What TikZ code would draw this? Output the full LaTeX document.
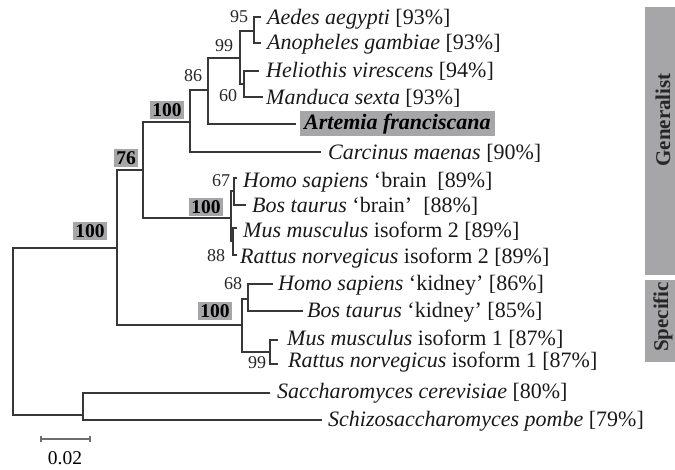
\documentclass[tikz,border=0pt]{standalone}
\usepackage{fontspec}
\setmainfont{Liberation Serif}
\definecolor{boxgray}{RGB}{166,166,168}
\definecolor{linegray}{RGB}{55,55,55}
\definecolor{scalegray}{RGB}{110,110,110}
\begin{document}
\begin{tikzpicture}[x=1pt,y=-1pt,
  branch/.style={draw=linegray,line width=1.8pt},
  leaf/.style={anchor=base west,inner sep=0pt,font=\fontsize{22}{26}\selectfont,text=black!90},
  boot/.style={inner sep=0pt,font=\fontsize{18}{20}\selectfont,text=black!85},
  bootbox/.style={fill=boxgray,inner xsep=2.5pt,inner ysep=2.5pt,text height=13.5pt,text depth=0pt,font=\fontsize{19.5}{22}\selectfont\bfseries,text=black},
  sidebar/.style={fill=boxgray,draw=none},
  sidelabel/.style={rotate=90,inner sep=0pt,font=\fontsize{21}{24}\selectfont\bfseries,text=black!85}]
\useasboundingbox (0,0) rectangle (675,469);

% internal nodes
\coordinate (R) at (13,331);
\coordinate (A) at (117,248);
\coordinate (Y) at (83,415);
\coordinate (B) at (143,170);
\coordinate (C) at (190,122);
\coordinate (E) at (208,90);
\coordinate (F) at (240,58);
\coordinate (G) at (254,31);
\coordinate (H) at (244,84);
\coordinate (D) at (231,218);
\coordinate (D1) at (234,191);
\coordinate (D2) at (233,241);
\coordinate (K) at (242,325);
\coordinate (K1) at (248,299);
\coordinate (K2) at (270,352);

% leaf ends
\coordinate (aedesL) at (261,17);
\coordinate (anophL) at (261,43);
\coordinate (helioL) at (259,71);
\coordinate (mandL) at (263,97);
\coordinate (artL) at (296,124);
\coordinate (carcL) at (321,152);
\coordinate (homoBL) at (237,178);
\coordinate (bosBL) at (246,205);
\coordinate (mus2L) at (237,228);
\coordinate (rat2L) at (237,255);
\coordinate (homoKL) at (273,284);
\coordinate (bosKL) at (303,311);
\coordinate (mus1L) at (278,340);
\coordinate (rat1L) at (278,364);
\coordinate (sacchL) at (270,393);
\coordinate (schizoL) at (322,420);

% branches
\draw[branch] (R) |- (A);
\draw[branch] (R) |- (Y);
\draw[branch] (A) |- (B);
\draw[branch] (A) |- (K);
\draw[branch] (B) |- (C);
\draw[branch] (B) |- (D);
\draw[branch] (C) |- (E);
\draw[branch] (C) |- (carcL);
\draw[branch] (E) |- (F);
\draw[branch] (E) |- (artL);
\draw[branch] (F) |- (G);
\draw[branch] (F) |- (H);
\draw[branch] (G) |- (aedesL);
\draw[branch] (G) |- (anophL);
\draw[branch] (H) |- (helioL);
\draw[branch] (H) |- (mandL);
\draw[branch] (D) |- (D1);
\draw[branch] (D) |- (D2);
\draw[branch] (D1) |- (homoBL);
\draw[branch] (D1) |- (bosBL);
\draw[branch] (D2) |- (mus2L);
\draw[branch] (D2) |- (rat2L);
\draw[branch] (K) |- (K1);
\draw[branch] (K) |- (K2);
\draw[branch] (K1) |- (homoKL);
\draw[branch] (K1) |- (bosKL);
\draw[branch] (K2) |- (mus1L);
\draw[branch] (K2) |- (rat1L);
\draw[branch] (Y) |- (sacchL);
\draw[branch] (Y) |- (schizoL);

% leaf labels
\node[leaf] (aedes) at (267,24.5) {\textit{Aedes aegypti} [93\%]};
\node[leaf] (anoph) at (267,49.5) {\textit{Anopheles gambiae} [93\%]};
\node[leaf] (helio) at (266,77.5) {\textit{Heliothis virescens} [94\%]};
\node[leaf] (mand) at (266,104.5) {\textit{Manduca sexta} [93\%]};
\node[fill=boxgray,anchor=west,inner xsep=4pt,inner ysep=2pt,text height=16pt,text depth=5pt,font=\fontsize{22}{26}\selectfont\bfseries\itshape,text=black] (art) at (300,123.5) {Artemia franciscana};
\node[leaf] (carc) at (328,159.5) {\textit{Carcinus maenas} [90\%]};
\node[leaf] (homoB) at (243,187.5) {\textit{Homo sapiens} ‘brain\ \ [89\%]};
\node[leaf] (bosB) at (252,212.5) {\textit{Bos taurus} ‘brain’\ \ [88\%]};
\node[leaf] (mus2) at (243,237.5) {\textit{Mus musculus} isoform 2 [89\%]};
\node[leaf] (rat2) at (240,263.5) {\textit{Rattus norvegicus} isoform 2 [89\%]};
\node[leaf] (homoK) at (278,290.5) {\textit{Homo sapiens} ‘kidney’ [86\%]};
\node[leaf] (bosK) at (307,317.5) {\textit{Bos taurus} ‘kidney’ [85\%]};
\node[leaf] (mus1) at (287,345.5) {\textit{Mus musculus} isoform 1 [87\%]};
\node[leaf] (rat1) at (288,367.5) {\textit{Rattus norvegicus} isoform 1 [87\%]};
\node[leaf] (sacch) at (277,398.5) {\textit{Saccharomyces cerevisiae} [80\%]};
\node[leaf] (schizo) at (328,426.5) {\textit{Schizosaccharomyces pombe} [79\%]};

% bootstrap values
\node[boot] (b95) at (239,17) {95};
\node[boot] (b99a) at (224,46) {99};
\node[boot] (b86) at (193,76) {86};
\node[boot] (b60) at (228,96) {60};
\node[boot] (b67) at (221,181) {67};
\node[boot] (b88) at (216,256) {88};
\node[boot] (b68) at (233,284) {68};
\node[boot] (b99b) at (257,363) {99};
\node[bootbox] (bR) at (90,231) {100};
\node[bootbox] (b76) at (126,158) {76};
\node[bootbox] (bC) at (167,110) {100};
\node[bootbox] (bD) at (206,207) {100};
\node[bootbox] (bK) at (215,311) {100};

% scale bar
\coordinate (sb1) at (41,439);
\coordinate (sb2) at (90,439);
\draw[draw=scalegray,line width=1.2pt] (sb1) -- (sb2);
\draw[draw=scalegray,line width=1.2pt] ([yshift=3pt]sb1) -- ([yshift=-3pt]sb1);
\draw[draw=scalegray,line width=1.2pt] ([yshift=3pt]sb2) -- ([yshift=-3pt]sb2);
\node[inner sep=0pt,font=\fontsize{19.5}{22}\selectfont] (sbl) at (65,458) {0.02};

% side bars
\fill[sidebar] (645,7) rectangle (675,275);
\fill[sidebar] (645,280) rectangle (675,362);
\node[sidelabel] (gen) at (663,120) {Generalist};
\node[sidelabel] (spec) at (663,317) {Specific};
\end{tikzpicture}
\end{document}
